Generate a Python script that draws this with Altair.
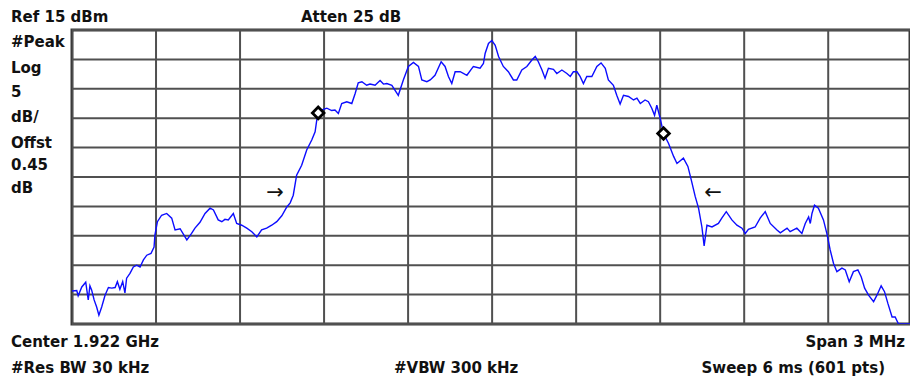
import altair as alt
import pandas as pd

# Spectrum trace: frequency offset from centre (kHz) and level (dBm)
offset_khz = [
    -1500, -1483, -1478, -1465, -1451, -1442, -1436, -1430, -1421, -1412,
    -1404, -1394, -1382, -1370, -1358, -1346, -1338, -1329, -1319, -1311,
    -1305, -1293, -1281, -1269, -1257, -1245, -1233, -1218, -1207, -1204,
    -1195, -1180, -1162, -1144, -1132, -1114, -1090, -1073, -1061, -1043,
    -1025, -1007, -995, -978, -965, -954, -942, -924, -912, -894,
    -876, -858, -840, -823, -805, -787, -769, -751, -733, -721,
    -710, -698, -680, -662, -644, -632, -626, -621, -608, -590,
    -573, -561, -549, -537, -519, -501, -489, -478, -465, -448,
    -436, -418, -400, -388, -376, -358, -335, -317, -299, -281,
    -263, -251, -233, -221, -204, -182, -168, -156, -144, -132,
    -114, -90, -67, -43, -31, -25, -13, -1, 11, 23,
    40, 58, 76, 88, 106, 124, 142, 154, 165, 178,
    189, 201, 219, 231, 249, 267, 279, 290, 303, 314,
    326, 338, 356, 374, 389, 404, 415, 433, 445, 457,
    469, 487, 505, 517, 529, 546, 558, 570, 580, 588,
    600, 612, 630, 648, 660, 683, 699, 711, 725, 737,
    749, 757, 767, 785, 808, 820, 836, 856, 874, 892,
    904, 915, 939, 957, 975, 993, 1017, 1029, 1053, 1064,
    1088, 1106, 1118, 1130, 1136, 1142, 1151, 1165, 1183, 1195,
    1207, 1219, 1231, 1249, 1261, 1275, 1290, 1306, 1318, 1330,
    1344, 1362, 1374, 1389, 1401, 1413, 1428, 1439, 1451, 1463,
    1500,
]
level_dbm = [
    -29.4, -29.3, -30.2, -28.7, -27.9, -30.9, -28.5, -29.2, -30.9, -32.1,
    -33.5, -32.1, -30.1, -28.8, -28.9, -28.8, -27.8, -29.1, -27.8, -29.7,
    -27.2, -26.4, -25.3, -25.0, -25.3, -24.1, -23.3, -23.0, -21.9, -19.9,
    -17.6, -16.5, -16.2, -17.0, -19.0, -18.8, -20.7, -19.6, -18.7, -17.7,
    -16.2, -15.3, -15.6, -17.3, -17.6, -17.2, -17.3, -16.2, -17.9, -18.2,
    -18.7, -19.3, -20.2, -19.0, -18.7, -18.2, -17.6, -16.6, -15.1, -14.4,
    -13.1, -9.7, -8.0, -5.4, -3.7, -2.3, -0.3, 0.9, 1.4, 1.7,
    1.3, 1.4, 0.8, 2.5, 2.8, 2.5, 4.2, 6.0, 6.2, 5.6,
    5.8, 5.6, 6.4, 5.8, 5.9, 5.6, 3.9, 6.5, 8.8, 9.5,
    8.8, 6.5, 6.2, 6.5, 7.3, 9.6, 8.8, 7.1, 5.9, 7.9,
    7.9, 7.3, 8.8, 8.5, 9.3, 11.0, 12.7, 13.2, 12.4, 10.5,
    8.8, 7.9, 6.5, 6.5, 8.2, 8.8, 9.9, 10.5, 9.6, 8.2,
    6.8, 8.5, 8.3, 7.6, 8.2, 7.6, 7.1, 7.9, 7.9, 7.1,
    5.9, 7.1, 7.1, 8.8, 9.4, 8.5, 6.5, 5.6, 3.9, 2.4,
    3.9, 3.7, 3.1, 3.4, 2.5, 3.1, 2.8, 1.7, 0.5, 2.2,
    0.0, -2.6, -4.3, -6.5, -7.7, -6.8, -8.2, -10.5, -13.3, -15.3,
    -18.5, -21.7, -18.2, -18.5, -17.9, -17.0, -15.9, -17.3, -18.2, -18.7,
    -19.6, -18.9, -18.5, -17.0, -15.9, -17.9, -19.0, -19.5, -18.7, -19.3,
    -18.7, -19.6, -17.9, -16.8, -17.9, -16.2, -14.8, -15.3, -17.3, -19.6,
    -22.4, -24.7, -26.1, -25.5, -25.8, -27.8, -26.1, -25.8, -27.0, -28.9,
    -30.1, -31.2, -30.1, -28.5, -29.5, -31.5, -33.8, -33.8, -35.0, -35.0,
    -35.0,
]

# Band-edge markers and the arrows pointing at them
marker_khz = [-621, 612]
marker_dbm = [0.9, -2.6]
arrow_khz = [-775, 789]
arrow_dbm = [-12.7, -12.7]
arrow_glyphs = ["\u2192", "\u2190"]

# Instrument annotations
ref_label = "Ref 15 dBm"
atten_label = "Atten 25 dB"
side_labels = ["#Peak", "Log", "5", "dB/", "Offst", "0.45", "dB"]
center_label = "Center 1.922 GHz"
span_label = "Span 3 MHz"
rbw_label = "#Res BW 30 kHz"
vbw_label = "#VBW 300 kHz"
sweep_label = "Sweep 6 ms (601 pts)"

# Graticule: 10 divisions each way (300 kHz/div, 5 dB/div)
freq_ticks = list(range(-1500, 1501, 300))
level_ticks = list(range(-35, 16, 5))

GRID = "#505050"
TRACE = "#0c0cff"
FONT = "DejaVu Sans"
INK = "#111111"

PLOT_LEFT, PLOT_TOP = 72, 30
W, H = 838, 294

x_scale = alt.Scale(domain=[-1500, 1492], nice=False, zero=False)
y_scale = alt.Scale(domain=[-35, 15], nice=False, zero=False)

trace_df = pd.DataFrame({"offset_khz": offset_khz, "level_dbm": level_dbm})
marker_df = pd.DataFrame({"offset_khz": marker_khz, "level_dbm": marker_dbm})
arrow_df = pd.DataFrame({"offset_khz": arrow_khz, "level_dbm": arrow_dbm,
                         "glyph": arrow_glyphs})

# Graticule lines drawn as rules on the same scales as the trace
vgrid = alt.Chart(pd.DataFrame({"offset_khz": freq_ticks})).mark_rule(
    color=GRID, strokeWidth=2, clip=True
).encode(x=alt.X("offset_khz:Q", scale=x_scale, axis=None))

hgrid = alt.Chart(pd.DataFrame({"level_dbm": level_ticks})).mark_rule(
    color=GRID, strokeWidth=2
).encode(y=alt.Y("level_dbm:Q", scale=y_scale, axis=None))

trace = alt.Chart(trace_df).mark_line(
    color=TRACE, strokeWidth=1.4, clip=True
).encode(
    x=alt.X("offset_khz:Q", scale=x_scale, axis=None),
    y=alt.Y("level_dbm:Q", scale=y_scale, axis=None),
)

markers = alt.Chart(marker_df).mark_point(
    shape="diamond", size=135, filled=True, fill="white", stroke="black",
    strokeWidth=2.8, opacity=1, fillOpacity=1, strokeOpacity=1
).encode(
    x=alt.X("offset_khz:Q", scale=x_scale, axis=None),
    y=alt.Y("level_dbm:Q", scale=y_scale, axis=None),
)

arrows = alt.Chart(arrow_df).mark_text(
    font=FONT, fontSize=21, color=INK, align="center", baseline="middle"
).encode(
    x=alt.X("offset_khz:Q", scale=x_scale, axis=None),
    y=alt.Y("level_dbm:Q", scale=y_scale, axis=None),
    text="glyph:N",
)


def label(text, px, baseline_y, align="left"):
    """Bold instrument text placed at page pixel position (px, baseline_y)."""
    return alt.Chart(pd.DataFrame({"t": [text]})).mark_text(
        font=FONT, fontSize=15, fontWeight="bold", color=INK,
        align=align, baseline="alphabetic"
    ).encode(
        text="t:N",
        x=alt.value(px - PLOT_LEFT),
        y=alt.value(baseline_y - PLOT_TOP),
    )


side_baselines = [47, 73, 97, 122, 148, 170, 193]
texts = [
    label(ref_label, 11, 22),
    label(atten_label, 301, 22),
    label(center_label, 11, 347),
    label(span_label, 905, 347, align="right"),
    label(rbw_label, 11, 373),
    label(vbw_label, 394, 373),
    label(sweep_label, 885, 373, align="right"),
] + [label(t, 11, b) for t, b in zip(side_labels, side_baselines)]

chart = alt.layer(vgrid, hgrid, trace, markers, arrows, *texts).properties(
    width=W,
    height=H,
    padding={"left": PLOT_LEFT, "top": PLOT_TOP, "right": 0, "bottom": 58},
    autosize=alt.AutoSizeParams(type="none"),
    background="white",
).configure_view(
    stroke="#3a3a3a", strokeWidth=3
)

chart.save("out.html", embed_options={"renderer": "svg", "actions": False})
